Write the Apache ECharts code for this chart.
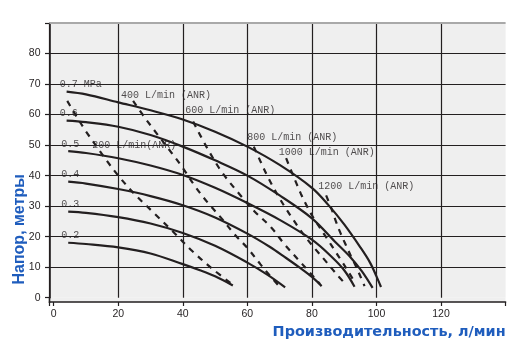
<!DOCTYPE html>
<html><head><meta charset="utf-8">
<script src="https://cdn.jsdelivr.net/npm/echarts@6/dist/echarts.min.js"></script>
<style>html,body{margin:0;padding:0;background:#fff}#c{width:522px;height:356px}</style>
</head><body><div id="c"></div>
<script>
// ---- data (flow l/min, head m) ----
const xTickLabels = ['0','20','40','60','80','100','120'];
const yTickLabels = ['0','10','20','30','40','50','60','70','80'];

const pressureNames = ['0.7 MPa','0.6','0.5','0.4','0.3','0.2'];
const p07 = [[4,67.5],[10,66.6],[20,64],[30,61.4],[40,58.4],[50,54.4],[60,49.5],[70,43.5],[80,36],[85,30.5],[90,24],[95,16.5],[98,11.5],[100,7],[101.4,3.5]];
const p06 = [[4,58],[10,57.5],[20,56],[30,53.3],[40,49.5],[50,45],[60,40],[70,33.5],[80,26],[87,18.5],[92,13.2],[95.5,8.6],[98.8,3.2]];
const p05 = [[4.5,48],[10,47.4],[20,45.7],[30,43.3],[40,40.2],[50,36],[60,31],[70,25.5],[80,19],[86,13.5],[90,9],[93.2,3.6]];
const p04 = [[4.5,38],[10,37.4],[20,35.6],[30,33.3],[40,30.3],[50,26.3],[60,21],[66.9,16.7],[72,13],[76,10],[80,6.8],[83,3.8]];
const p03 = [[4.5,28.2],[10,27.8],[20,26.4],[30,24.3],[40,21.2],[50,17],[60,11.5],[66.4,7.4],[71.7,3.4]];
const p02 = [[4.5,18],[10,17.6],[20,16.5],[30,14.5],[40,11],[45.3,9],[50,7],[55.5,4]];

const airNames = ['200 L/min(ANR)','400 L/min (ANR)','600 L/min (ANR)','800 L/min (ANR)','1000 L/min (ANR)','1200 L/min (ANR)'];
const a200 = [[4.2,64.5],[7,59.5],[10,54.5],[13,50],[16,45.5],[20,40],[25,34],[31,27.8],[37,21.6],[43,15.2],[49,9.6],[55.5,4.2]];
const a400 = [[24.6,64.5],[28,59.3],[32,53.7],[37,46.8],[40,42.5],[44,36.2],[48,30.8],[52,26],[56,20.8],[60,16.3],[64,11],[67,7.2],[70,3.6]];
const a600 = [[43.2,57.7],[47.3,49.5],[52,41.3],[57.5,34],[62,28.5],[67.4,23],[71.5,17.5],[77,11],[82.5,4.5]];
const a800 = [[62,49.5],[64,44.8],[66,40.3],[68,36.2],[70,32.5],[72,29.1],[74,25.9],[76,22.8],[78.5,19.2],[81,16],[84,12.3],[87,8.5],[90.6,4.2]];
const a1000 = [[72,45.7],[73.6,41.5],[75.1,37.7],[76.6,34],[78.2,30.5],[80,27],[82.4,23],[84.8,19.2],[87,15.6],[89.2,12],[91.3,8.5],[93.5,4.6]];
const a1200 = [[84.4,33.5],[86,29.3],[87.2,25.7],[88.6,21.8],[90.4,17.5],[92.1,13.6],[93.7,10.1],[95.1,6.8],[96.3,3.8]];

// ---- styling / layout ----
const INK = '#231f20';
const BLUE = '#1f5dbd';
const pressureCurves = [p07,p06,p05,p04,p03,p02];
const airCurves = [a200,a400,a600,a800,a1000,a1200];
const airLabelIndex = [3,0,0,0,0,0];
const airLabelOffsets = [[-4,0],[-12.5,-5.2],[-8.5,-11],[-7.2,-9],[-7.8,-6.3],[-8.5,-9]];
const pressureLabelOffset = [-7.4,-7];
const monoFont = '"Liberation Mono", "DejaVu Sans Mono", monospace';
const tickFont = '"Liberation Sans Narrow", "Arial Narrow", "Liberation Sans", sans-serif';

const series = [];
pressureCurves.forEach((d,i)=>{
  series.push({type:'line', name:pressureNames[i], data:d, showSymbol:false, smooth:0.35, silent:true,
    lineStyle:{color:INK,width:2.2}, z:3});
});
airCurves.forEach((d,i)=>{
  series.push({type:'line', name:airNames[i], data:d, showSymbol:false, smooth:0.35, silent:true,
    lineStyle:{color:INK,width:2.2,type:[6,6],cap:'butt'}, z:3});
});
const labelData = [];
pressureCurves.forEach((d,i)=>labelData.push({name:pressureNames[i], value:d[0], label:{offset:pressureLabelOffset}}));
airCurves.forEach((d,i)=>labelData.push({name:airNames[i], value:d[airLabelIndex[i]], label:{offset:airLabelOffsets[i]}}));
series.push({type:'scatter', data:labelData, symbol:'circle', symbolSize:1, silent:true,
  itemStyle:{color:'rgba(0,0,0,0)'}, z:6,
  label:{show:true, position:'right', distance:0, formatter:p=>p.name,
    fontFamily:monoFont, fontSize:10, color:INK}});

// vertical grid lines: first one sits under the y axis, none at x = 0
const vGridColors = [INK, 'rgba(0,0,0,0)'].concat(xTickLabels.slice(1).map(()=>INK));

const chart = echarts.init(document.getElementById('c'), null, {renderer:'canvas'});
chart.setOption({
  animation:false,
  grid:{left:49.5, right:16.4, top:23, bottom:58.3, containLabel:false, outerBoundsMode:'none',
    show:true, backgroundColor:'#efefef', borderWidth:0},
  xAxis:{type:'value', min:-1.3, max:140, minInterval:20, maxInterval:20, offset:4.3,
    axisLine:{show:true, onZero:false, lineStyle:{color:INK,width:1.6}},
    axisTick:{show:true, length:4, lineStyle:{color:INK,width:1.2}},
    axisLabel:{margin:7, color:INK, fontFamily:tickFont, fontSize:10.5,
      formatter:v=>xTickLabels.includes(String(v))?String(v):''},
    splitLine:{show:true, showMinLine:true, showMaxLine:false, lineStyle:{color:vGridColors,width:1.2}},
    name:'Производительность, л/мин', nameLocation:'end', nameGap:0, nameMoveOverlap:false,
    nameTextStyle:{color:BLUE, fontFamily:'"DejaVu Sans", sans-serif', fontWeight:'bold', fontSize:14.4,
      align:'right', verticalAlign:'top', padding:[23,0,0,0]}},
  yAxis:{type:'value', min:0, max:90, interval:10,
    axisLine:{show:true, onZero:false, lineStyle:{color:INK,width:1.6}},
    axisTick:{show:true, length:4.5, lineStyle:{color:INK,width:1.2}},
    axisLabel:{margin:9, color:INK, fontFamily:tickFont, fontSize:10.5,
      formatter:v=>yTickLabels.includes(String(v))?String(v):''},
    splitLine:{show:true, showMinLine:false, showMaxLine:false, lineStyle:{color:INK,width:1.2}},
    name:'Напор, метры', nameLocation:'middle', nameGap:22, nameMoveOverlap:false,
    nameTextStyle:{color:BLUE, fontFamily:'"Liberation Sans", Arial, sans-serif', fontWeight:'bold', fontSize:16,
      padding:[0,138,0,0]}},
  graphic:[
    {type:'rect', z:-1, shape:{x:49.5,y:297.7,width:456,height:4.6}, style:{fill:'#efefef'}},
    {type:'line', z:10, shape:{x1:49.5,y1:297,x2:49.5,y2:302.8}, style:{stroke:INK,lineWidth:1.6}},
    {type:'line', z:10, shape:{x1:49.5,y1:23,x2:505.6,y2:23}, style:{stroke:'#a9a9a9',lineWidth:2}}
  ],
  series:series
});
</script></body></html>
